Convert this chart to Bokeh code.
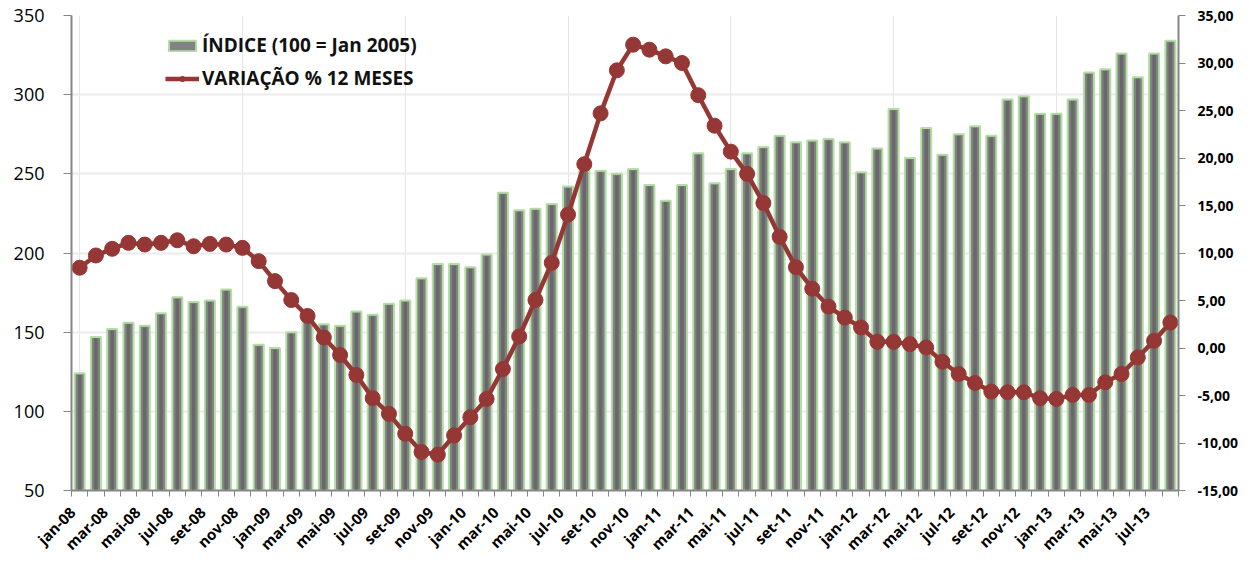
from bokeh.plotting import figure
from bokeh.models import (Range1d, LinearAxis, FixedTicker, Legend, LegendItem)
from bokeh.embed import file_html
from bokeh.resources import INLINE
import math

months = ["jan", "fev", "mar", "abr", "mai", "jun", "jul", "ago", "set", "out", "nov", "dez"]
categories = [f"{m}-{y:02d}" for y in range(8, 14) for m in months][:68]

indice = [124, 147, 152, 156, 154, 162, 172, 169, 170, 177, 166, 142,
          140, 150, 157, 155, 154, 163, 161, 168, 170, 184, 193, 193,
          191, 199, 238, 227, 228, 231, 242, 252, 252, 250, 253, 243,
          233, 243, 263, 244, 253, 263, 267, 274, 270, 271, 272, 270,
          251, 266, 291, 260, 279, 262, 275, 280, 274, 297, 299, 288,
          288, 297, 314, 316, 326, 311, 326, 334]

variacao = [8.45, 9.74, 10.44, 11.07, 10.89, 11.07, 11.34, 10.71, 10.96, 10.89, 10.54, 9.14,
            7.04, 5.05, 3.37, 1.11, -0.74, -2.84, -5.28, -6.93, -9.02, -10.95, -11.23, -9.2,
            -7.28, -5.36, -2.21, 1.21, 5.05, 8.97, 14.04, 19.35, 24.7, 29.23, 31.93, 31.4,
            30.7, 30.0, 26.61, 23.4, 20.67, 18.33, 15.26, 11.7, 8.51, 6.24, 4.36, 3.2,
            2.16, 0.65, 0.65, 0.41, 0.06, -1.45, -2.74, -3.68, -4.59, -4.66, -4.66, -5.28,
            -5.36, -4.94, -4.94, -3.61, -2.74, -0.99, 0.76, 2.68]

left_ticks = [50, 100, 150, 200, 250, 300, 350]
right_ticks = [-15, -10, -5, 0, 5, 10, 15, 20, 25, 30, 35]

n = len(categories)
x = list(range(n))
label_shift = 0.45  # rotated labels sit slightly left of their category

p = figure(width=1255, height=563, output_backend="svg", toolbar_location=None,
           x_range=Range1d(-0.5, n - 0.5), y_range=Range1d(50, 350),
           x_axis_location=None,
           min_border_left=71, min_border_right=77, min_border_top=15, min_border_bottom=71)
p.outline_line_color = None
p.background_fill_color = "white"
p.border_fill_color = "white"

p.extra_y_ranges = {"var": Range1d(-15, 35)}
p.extra_x_ranges = {"lab": Range1d(-0.5 + label_shift, n - 0.5 + label_shift)}

bars = p.vbar(x=x, top=indice, bottom=50, width=0.62, fill_color="#828282",
              line_color="#b3dea4", line_width=2)
p.vbar(x=x, top=[v - 1 for v in indice], bottom=50, width=0.22, fill_color="#686868",
       line_color=None)

ln = p.line(x=x, y=variacao, line_color="#953735", line_width=4.5, y_range_name="var")
sc = p.scatter(x=x, y=variacao, size=15, fill_color="#953735", line_color="#953735",
               y_range_name="var")

# single x axis: labels (shifted range) + boundary tick marks as minor ticks
la = LinearAxis(x_range_name="lab",
                ticker=FixedTicker(ticks=list(range(0, n, 2)),
                                   minor_ticks=[i - 0.5 + label_shift for i in range(n + 1)]))
la.major_label_overrides = {i: categories[i] for i in range(0, n, 2)}
la.major_label_orientation = math.pi / 4
la.axis_line_color = "#868686"
la.axis_line_width = 2
la.major_tick_line_color = None
la.major_tick_out = 0
la.major_tick_in = 0
la.minor_tick_out = 6
la.minor_tick_in = 0
la.minor_tick_line_color = "#868686"
la.minor_tick_line_width = 1
la.major_label_text_font = "Open Sans"
la.major_label_text_font_style = "bold"
la.major_label_text_font_size = "15px"
la.major_label_text_color = "#000000"
la.major_label_standoff = 13
p.add_layout(la, "below")

# left axis
ya = p.yaxis[0]
ya.ticker = FixedTicker(ticks=left_ticks)
ya.axis_line_color = "#868686"
ya.axis_line_width = 2
ya.major_tick_line_color = "#868686"
ya.major_tick_out = 8
ya.major_tick_in = 0
ya.minor_tick_line_color = None
ya.major_label_text_font = "Open Sans"
ya.major_label_text_font_size = "18px"
ya.major_label_text_color = "#000000"
ya.major_label_standoff = 19

p.ygrid.ticker = FixedTicker(ticks=left_ticks)
p.ygrid.grid_line_color = "#ebebeb"
p.ygrid.grid_line_width = 2

# right axis
ra = LinearAxis(y_range_name="var", ticker=FixedTicker(ticks=right_ticks))
ra.major_label_overrides = {v: f"{v:.2f}".replace(".", ",") for v in right_ticks}
ra.axis_line_color = "#868686"
ra.axis_line_width = 2
ra.major_tick_line_color = "#868686"
ra.major_tick_out = 7
ra.major_tick_in = 0
ra.minor_tick_line_color = None
ra.major_label_text_font = "Open Sans"
ra.major_label_text_font_style = "bold"
ra.major_label_text_font_size = "14px"
ra.major_label_text_color = "#000000"
ra.major_label_standoff = 12
p.add_layout(ra, "right")

legend = Legend(items=[LegendItem(label="ÍNDICE (100 = Jan 2005)", renderers=[bars]),
                       LegendItem(label="VARIAÇÃO % 12 MESES", renderers=[ln, sc])],
                location=(94, 399), orientation="vertical")
legend.background_fill_alpha = 0
legend.border_line_color = None
legend.padding = 0
legend.margin = 0
legend.glyph_width = 34
legend.glyph_height = 13
legend.label_height = 13
legend.spacing = 7
legend.label_standoff = 3
legend.label_text_font = "Open Sans"
legend.label_text_font_style = "bold"
legend.label_text_font_size = "19px"
legend.label_text_color = "#111111"
p.add_layout(legend)

open("out.html", "w").write(file_html(p, INLINE))
